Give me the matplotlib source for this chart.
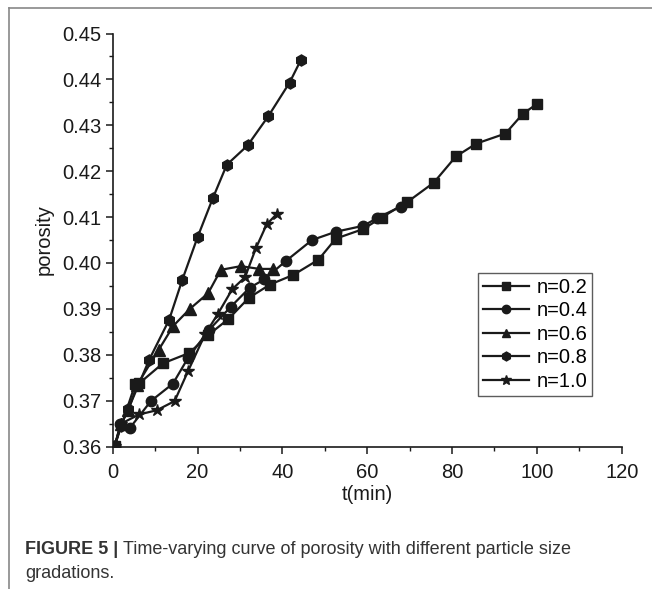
import matplotlib
matplotlib.use("Agg")
import matplotlib.pyplot as plt
from matplotlib.ticker import MultipleLocator, FormatStrFormatter
from matplotlib.lines import Line2D

plt.rcParams['font.family'] = ['Liberation Sans', 'DejaVu Sans']

# data
t_02 = [0.5, 5.3, 6.3, 11.8, 18.1, 22.4, 27.3, 32.1, 37.1, 42.6, 48.5, 52.6,
        59.1, 63.4, 69.5, 75.7, 80.9, 85.7, 92.6, 96.7, 100.1]
p_02 = [0.3602, 0.3736, 0.3738, 0.3781, 0.3804, 0.3842, 0.3878, 0.3924, 0.3953,
        0.3974, 0.4007, 0.4053, 0.4074, 0.4099, 0.4133, 0.4175, 0.4232, 0.4260,
        0.4282, 0.4325, 0.4347]

t_04 = [0.5, 1.8, 4.1, 9.0, 14.2, 17.7, 22.6, 27.9, 32.3, 35.7, 40.8, 47.0,
        52.6, 59.1, 62.4, 67.9]
p_04 = [0.3602, 0.3648, 0.3641, 0.3699, 0.3737, 0.3792, 0.3853, 0.3905, 0.3946,
        0.3964, 0.4004, 0.4050, 0.4068, 0.4081, 0.4098, 0.4123]

t_06 = [0.5, 1.9, 3.7, 5.8, 10.8, 14.3, 18.2, 22.5, 25.5, 30.2, 34.6, 37.7]
p_06 = [0.3602, 0.3648, 0.3680, 0.3735, 0.3810, 0.3863, 0.3900, 0.3934, 0.3985,
        0.3993, 0.3987, 0.3987]

t_08 = [0.5, 1.9, 3.7, 8.6, 13.3, 16.4, 20.0, 23.6, 26.9, 31.8, 36.7, 41.7, 44.4]
p_08 = [0.3602, 0.3645, 0.3682, 0.3789, 0.3876, 0.3963, 0.4056, 0.4141, 0.4214,
        0.4256, 0.4320, 0.4393, 0.4443]

t_10 = [0.5, 2.0, 6.3, 10.4, 14.6, 17.8, 21.8, 24.8, 28.2, 31.2, 33.8, 36.3, 38.7]
p_10 = [0.3602, 0.3650, 0.3670, 0.3679, 0.3699, 0.3765, 0.3845, 0.3889, 0.3943,
        0.3969, 0.4033, 0.4084, 0.4107]

labels = ["n=0.2", "n=0.4", "n=0.6", "n=0.8", "n=1.0"]
markers = ["s", "o", "^", "h", "*"]
msizes = [7, 7.5, 8, 8, 9]

W, H = 652, 589
fig = plt.figure(figsize=(W / 100, H / 100), dpi=100)
ax = fig.add_axes([112.7 / W, 1 - 446.5 / H, 509 / W, 413 / H])

ink = "#1a1a1a"
series = [(t_02, p_02), (t_04, p_04), (t_06, p_06), (t_08, p_08), (t_10, p_10)]
for (t, p), lab, m, ms in zip(series, labels, markers, msizes):
    ax.plot(t, p, color=ink, lw=1.6, marker=m, ms=ms, label=lab)

ax.set_xlim(0, 120)
ax.set_ylim(0.36, 0.45)
ax.xaxis.set_major_locator(MultipleLocator(20))
ax.xaxis.set_minor_locator(MultipleLocator(10))
ax.yaxis.set_major_locator(MultipleLocator(0.01))
ax.yaxis.set_minor_locator(MultipleLocator(0.005))
ax.yaxis.set_major_formatter(FormatStrFormatter("%.2f"))
for s in ["top", "right"]:
    ax.spines[s].set_visible(False)
for s in ["left", "bottom"]:
    ax.spines[s].set_linewidth(1.2)
    ax.spines[s].set_color(ink)
ax.tick_params(which="major", direction="out", length=5, width=1.1,
               labelsize=14.5, colors=ink)
ax.tick_params(which="minor", direction="out", length=3, width=1.0, colors=ink)
ax.tick_params(axis="y", which="major", pad=3)
ax.tick_params(axis="x", which="major", pad=7)

ax.set_xlabel("t(min)", fontsize=14.5, labelpad=2, color=ink)
ax.set_ylabel("porosity", fontsize=14.5, labelpad=6, color=ink)

handles = [Line2D([], [], color=ink, lw=1.6, marker=m, ms=ms * 0.8)
           for m, ms in zip(markers, msizes)]
leg = fig.legend(handles, labels, loc="upper left",
                 bbox_to_anchor=(478 / W, 1 - 273 / H),
                 fontsize=14.5, frameon=True, fancybox=False, handlelength=2.3,
                 handletextpad=0.35, borderpad=0.25, labelspacing=0.22,
                 borderaxespad=0)
leg.get_frame().set_edgecolor("#333333")
leg.get_frame().set_linewidth(1.0)

# page frame lines (top and left)
fig.add_artist(Line2D([9 / W, 1], [1 - 8 / H, 1 - 8 / H],
                      transform=fig.transFigure, color="#888888", lw=1.2))
fig.add_artist(Line2D([9 / W, 9 / W], [0, 1 - 8 / H],
                      transform=fig.transFigure, color="#888888", lw=1.2))

# caption
cap = "#333333"
bold = fig.text(25 / W, 1 - 550 / H, "FIGURE 5 |", fontsize=13,
                fontweight="bold", color=cap, va="center")
fig.canvas.draw()
bb = bold.get_window_extent(fig.canvas.get_renderer())
fig.text(bb.x1 / W + 5 / W, 1 - 550 / H,
         "Time-varying curve of porosity with different particle size",
         fontsize=13, color=cap, va="center")
fig.text(25 / W, 1 - 574 / H, "gradations.", fontsize=13, color=cap,
         va="center")

fig.savefig("out.png", dpi=100)
